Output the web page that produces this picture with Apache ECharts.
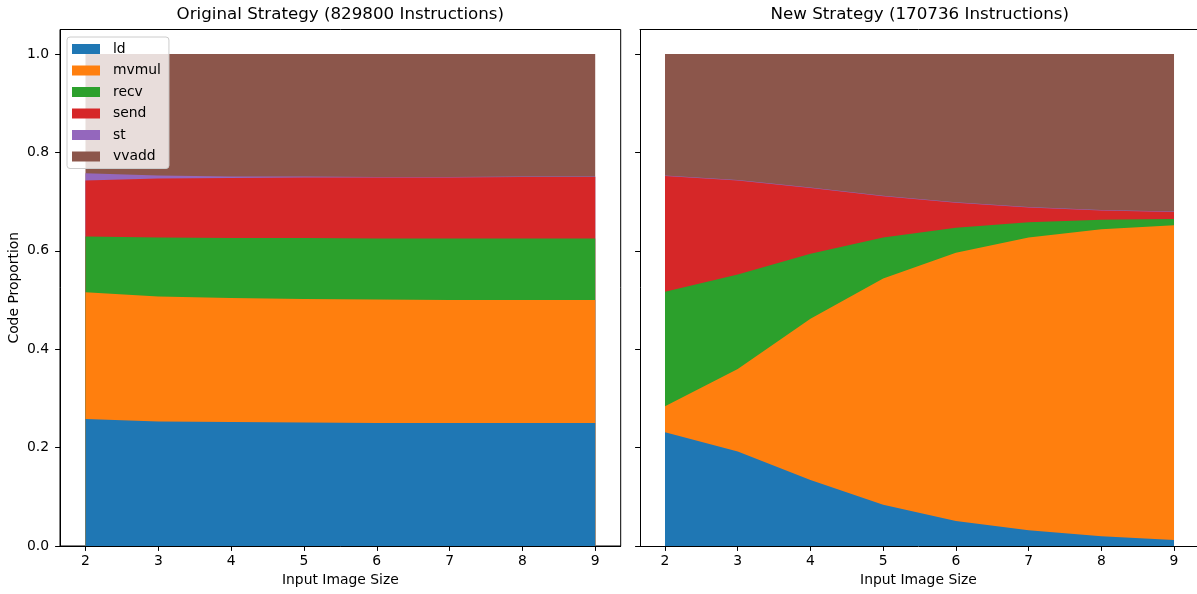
<!DOCTYPE html>
<html>
<head>
<meta charset="utf-8">
<style>
  html, body { margin: 0; padding: 0; background: #fff; }
  #chart { width: 1197px; height: 594px; }
</style>
<script src="https://cdn.jsdelivr.net/npm/echarts@6/dist/echarts.min.js"></script>
</head>
<body>
<div id="chart"></div>
<script>
// Input image sizes on the x axis
const sizes = [2, 3, 4, 5, 6, 7, 8, 9];
const opNames = ['ld', 'mvmul', 'recv', 'send', 'st', 'vvadd'];
const opColors = ['#1f77b4', '#ff7f0e', '#2ca02c', '#d62728', '#9467bd', '#8c564b'];

// Original strategy: share of each instruction type
const origLd    = [0.258, 0.253, 0.252, 0.251, 0.250, 0.250, 0.250, 0.250];
const origMvmul = [0.258, 0.254, 0.252, 0.251, 0.251, 0.250, 0.250, 0.250];
const origRecv  = [0.113, 0.120, 0.122, 0.124, 0.124, 0.125, 0.125, 0.125];
const origSend  = [0.114, 0.120, 0.122, 0.123, 0.124, 0.124, 0.125, 0.125];
const origSt    = [0.015, 0.006, 0.003, 0.002, 0.001, 0.001, 0.001, 0.001];
const origVvadd = [0.242, 0.247, 0.249, 0.249, 0.250, 0.250, 0.249, 0.249];

// New strategy: share of each instruction type
const newLd    = [0.231, 0.192, 0.134, 0.084, 0.051, 0.032, 0.020, 0.012];
const newMvmul = [0.053, 0.168, 0.328, 0.460, 0.545, 0.595, 0.624, 0.640];
const newRecv  = [0.233, 0.192, 0.132, 0.083, 0.051, 0.031, 0.019, 0.013];
const newSend  = [0.235, 0.191, 0.134, 0.084, 0.051, 0.030, 0.019, 0.014];
const newSt    = [0.001, 0.001, 0.001, 0.001, 0.001, 0.001, 0.001, 0.001];
const newVvadd = [0.247, 0.256, 0.271, 0.288, 0.301, 0.311, 0.317, 0.320];

const titles = ['Original Strategy (829800 Instructions)', 'New Strategy (170736 Instructions)'];
const xTicks = [2, 3, 4, 5, 6, 7, 8, 9];
const yTicks = [0, 0.2, 0.4, 0.6, 0.8, 1.0];
const xLabel = 'Input Image Size';
const yLabel = 'Code Proportion';

const FONT = 'DejaVu Sans';
const panels = [
  [origLd, origMvmul, origRecv, origSend, origSt, origVvadd],
  [newLd, newMvmul, newRecv, newSend, newSt, newVvadd]
];

// The second panel is cut off by the right edge of the canvas,
// so its x range stops short of the full margin.
const grids = [
  { left: 60, width: 560.7, top: 29.5, bottom: 48, show: true, borderColor: '#000', borderWidth: 1 },
  { left: 640, right: 0, top: 29.5, bottom: 48, show: false }
];
const xRanges = [[1.65, 9.35], [1.656, 9.316]];

const chart = echarts.init(document.getElementById('chart'), null, { renderer: 'canvas' });

const xAxes = grids.map((g, i) => ({
  type: 'value', gridIndex: i, min: xRanges[i][0], max: xRanges[i][1], z: 5,
  position: 'bottom',
  name: xLabel, nameLocation: 'middle', nameGap: 27,
  nameTextStyle: { fontFamily: FONT, fontSize: 13.9, color: '#000' },
  axisLine: { show: true, lineStyle: { color: '#000', width: 1 } },
  axisTick: { show: true, length: 4.9, customValues: xTicks, lineStyle: { color: '#000' } },
  axisLabel: { customValues: xTicks, margin: 8, fontFamily: FONT, fontSize: 13.9, color: '#000' },
  splitLine: { show: false }
}));
// top frame line of the second panel
xAxes.push({
  type: 'value', gridIndex: 1, min: xRanges[1][0], max: xRanges[1][1], position: 'top', z: 5,
  axisLine: { show: true, lineStyle: { color: '#000', width: 1 } },
  axisTick: { show: false }, axisLabel: { show: false }, splitLine: { show: false }
});

const yAxes = grids.map((g, i) => ({
  type: 'value', gridIndex: i, min: 0, max: 1.05, z: 5,
  name: i === 0 ? yLabel : '', nameLocation: 'middle', nameGap: 39,
  nameTextStyle: { fontFamily: FONT, fontSize: 13.9, color: '#000' },
  axisLine: { show: true, lineStyle: { color: '#000', width: 1 } },
  axisTick: { show: true, length: 4.9, customValues: yTicks, lineStyle: { color: '#000' } },
  axisLabel: {
    show: i === 0, customValues: yTicks, margin: 11,
    fontFamily: FONT, fontSize: 13.9, color: '#000',
    formatter: v => v.toFixed(1)
  },
  splitLine: { show: false }
}));

// Stacked areas: each layer is filled from zero up to its running total,
// drawn from the top layer down so lower layers sit over higher ones.
const series = [];
panels.forEach((cols, p) => {
  const totals = [];
  let run = sizes.map(() => 0);
  cols.forEach(vals => {
    run = run.map((r, j) => r + vals[j]);
    totals.push(run.slice());
  });
  for (let k = cols.length - 1; k >= 0; k--) {
    series.push({
      name: opNames[k],
      type: 'line',
      xAxisIndex: p, yAxisIndex: p,
      data: sizes.map((x, j) => [x, totals[k][j]]),
      showSymbol: false, symbol: 'none',
      lineStyle: { width: 0 },
      areaStyle: { color: opColors[k], opacity: 1, origin: 'start' },
      itemStyle: { color: opColors[k] },
      silent: true,
      z: 2
    });
  }
});

chart.setOption({
  animation: false,
  backgroundColor: '#fff',
  title: titles.map((t, i) => ({
    text: t,
    left: i === 0 ? 340.3 : 919.7,
    top: 6,
    textAlign: 'center',
    padding: 0,
    textStyle: { fontFamily: FONT, fontSize: 16.7, fontWeight: 'normal', color: '#000' }
  })),
  grid: grids,
  xAxis: xAxes,
  yAxis: yAxes,
  legend: {
    data: opNames.map(n => ({ name: n, icon: 'rect' })),
    orient: 'vertical',
    left: 67, top: 37,
    itemWidth: 28, itemHeight: 10, itemGap: 5.5,
    padding: [4, 8, 4, 5],
    backgroundColor: 'rgba(255,255,255,0.8)',
    borderColor: '#cccccc', borderWidth: 1, borderRadius: 3,
    selectedMode: false,
    textStyle: { fontFamily: FONT, fontSize: 13.9, color: '#000', lineHeight: 16, padding: [0, 0, 0, 8] }
  },
  series: series
});
</script>
</body>
</html>
